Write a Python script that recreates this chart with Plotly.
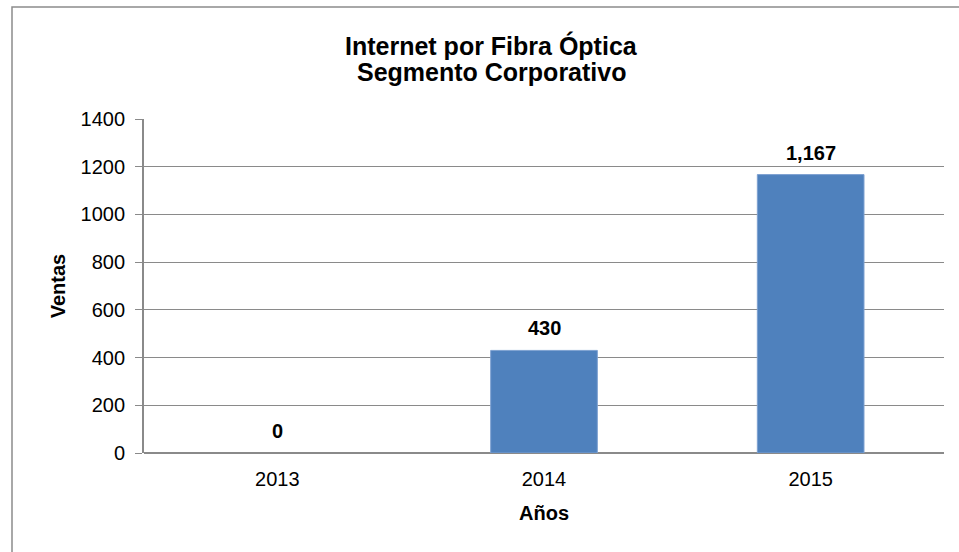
import plotly.graph_objects as go

years = ["2013", "2014", "2015"]
ventas = [0, 430, 1167]
labels = ["0", "430", "1,167"]
y_ticks = [0, 200, 400, 600, 800, 1000, 1200, 1400]
title_lines = ["Internet por Fibra Óptica", "Segmento Corporativo"]

FONT = "Liberation Sans, Arial, sans-serif"
GRID = "#8A8A8A"

fig = go.Figure()
fig.add_trace(go.Bar(
    x=years, y=ventas, width=0.4,
    marker=dict(color="#4F81BD",
                line=dict(color="#7EA1D1", width=[1 if v > 0 else 0 for v in ventas])),
    hoverinfo="x+y",
))

# data labels (x given as category index)
for i, (y, t) in enumerate(zip(ventas, labels)):
    fig.add_annotation(x=i, y=y, text="<b>%s</b>" % t, showarrow=False,
                       yanchor="bottom", yshift=9,
                       font=dict(family=FONT, size=20, color="#000000"))

# two-line chart title
for ty, line in zip([1.2186, 1.1407], title_lines):
    fig.add_annotation(xref="paper", yref="paper", x=0.434, y=ty,
                       text="<b>%s</b>" % line, showarrow=False,
                       xanchor="center", yanchor="middle",
                       font=dict(family=FONT, size=25, color="#000000"))

fig.update_layout(
    width=959, height=552,
    margin=dict(l=144, r=15, t=119, b=99, autoexpand=False),
    paper_bgcolor="white", plot_bgcolor="white",
    showlegend=False,
    font=dict(family=FONT, size=20, color="#000000"),
    xaxis=dict(
        type="category", range=[-0.5, 2.5], autorange=False,
        title=dict(text="<b>Años</b>", font=dict(family=FONT, size=20), standoff=16),
        showgrid=False, showline=False, ticks="", automargin=False,
        tickfont=dict(family=FONT, size=20), ticklabelstandoff=12,
    ),
    yaxis=dict(
        title=dict(text="<b>Ventas</b>", font=dict(family=FONT, size=20), standoff=10),
        range=[0, 1400], autorange=False,
        tickvals=y_ticks, ticktext=[str(v) for v in y_ticks],
        showgrid=True, gridcolor=GRID, gridwidth=1.3,
        zeroline=True, zerolinecolor=GRID, zerolinewidth=1.8,
        showline=True, linecolor=GRID, linewidth=1.8,
        ticks="outside", ticklen=7, tickcolor=GRID, tickwidth=1.3,
        tickfont=dict(family=FONT, size=20), ticklabelstandoff=6,
        automargin=False,
    ),
    shapes=[dict(type="rect", xref="paper", yref="paper",
                 x0=-0.165, x1=1.05, y0=-0.3, y1=1.3353,
                 line=dict(color="#8C8C8C", width=1.5), layer="below")],
)

fig.write_html("out.html", config={"displayModeBar": False},
               post_script="document.body.style.margin='0px';")
